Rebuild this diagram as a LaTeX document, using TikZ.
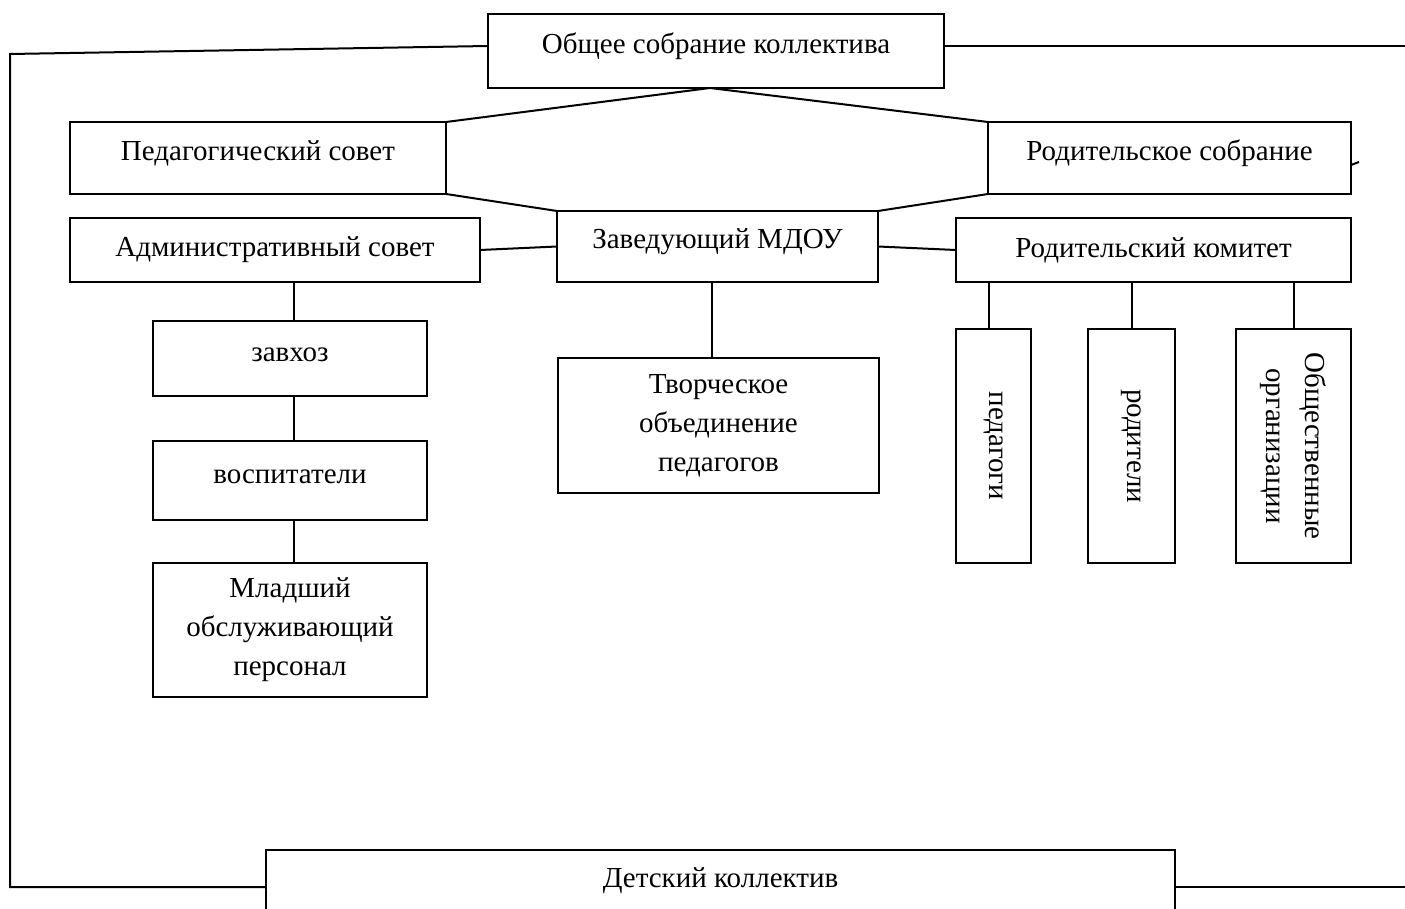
\documentclass[tikz,border=0pt]{standalone}
\usepackage{fontspec}
\setmainfont{Liberation Serif}
\begin{document}
\begin{tikzpicture}[x=1pt,y=-1pt,
  box/.style={draw, line width=2pt, inner sep=0pt, outer sep=0pt, align=center,
    font=\fontsize{29}{39}\selectfont},
  raised/.style={text height=20pt, text depth=15pt},
  conn/.style={line width=2pt}]
\useasboundingbox (0,0) rectangle (1405,909);
% nodes
\node[box, raised, minimum width=456, minimum height=74] (top) at (716,51) {Общее собрание коллектива};
\node[box, raised, minimum width=376, minimum height=72] (ps) at (258,158) {Педагогический совет};
\node[box, raised, minimum width=363, minimum height=72] (rs) at (1169.5,158) {Родительское собрание};
\node[box, raised, minimum width=321, minimum height=71] (zav) at (717.5,246.5) {Заведующий МДОУ};
\node[box, minimum width=410, minimum height=64] (adm) at (275,250) {Административный совет};
\node[box, minimum width=395, minimum height=64] (rk) at (1153.5,250) {Родительский комитет};
\node[box, raised, minimum width=274, minimum height=75] (zx) at (290,358.5) {завхоз};
\node[box, raised, minimum width=274, minimum height=79] (vos) at (290,480.5) {воспитатели};
\node[box, minimum width=274, minimum height=134] (ml) at (290,630) {Младший\\обслуживающий\\персонал};
\node[box, minimum width=321, minimum height=135] (tv) at (718.5,425.5) {Творческое\\объединение\\педагогов};
\node[box, rotate=-90, minimum width=234, minimum height=75] (ped) at (993.5,446) {педагоги};
\node[box, rotate=-90, minimum width=234, minimum height=87] (rod) at (1131.5,446) {родители};
\node[box, rotate=-90, minimum width=234, minimum height=115] (org) at (1293.5,446) {Общественные\\организации};
\node[box, raised, minimum width=909, minimum height=70] (det) at (720.5,885) {Детский коллектив};
% free ends
\coordinate (ltop) at (10,54);
\coordinate (lbot) at (10,887);
\coordinate (rtop) at (1405,46);
\coordinate (rbot) at (1405,887);
% connectors
\draw[conn] ([yshift=5pt]top.west) -- (ltop) -- (lbot) -- (lbot -| det.west);
\draw[conn] ([yshift=5pt]top.east) -- (rtop);
\draw[conn] (det.east |- rbot) -- (rbot);
\draw[conn] (ps.north east) -- ([xshift=-6pt]top.south) -- (rs.north west);
\draw[conn] (ps.south east) -- (zav.north west);
\draw[conn] (rs.south west) -- (zav.north east);
\draw[conn] ([yshift=-7pt]rs.east) -- ++(8,-3);
\draw[conn] (adm.east) -- (zav.west);
\draw[conn] (zav.east) -- (rk.west);
\draw[conn] ([xshift=4pt]zx.north) -- ([xshift=4pt]zx.north |- adm.south);
\draw[conn] ([xshift=4pt]vos.north) -- ([xshift=4pt]zx.south);
\draw[conn] ([xshift=4pt]ml.north) -- ([xshift=4pt]vos.south);
\draw[conn] ([xshift=-7pt]tv.north) -- ([xshift=-7pt]tv.north |- zav.south);
\draw[conn] ([xshift=-5pt]ped.west) -- ([xshift=-5pt]ped.west |- rk.south);
\draw[conn] (rod.west) -- (rod.west |- rk.south);
\draw[conn] (org.west) -- (org.west |- rk.south);
\end{tikzpicture}
\end{document}
